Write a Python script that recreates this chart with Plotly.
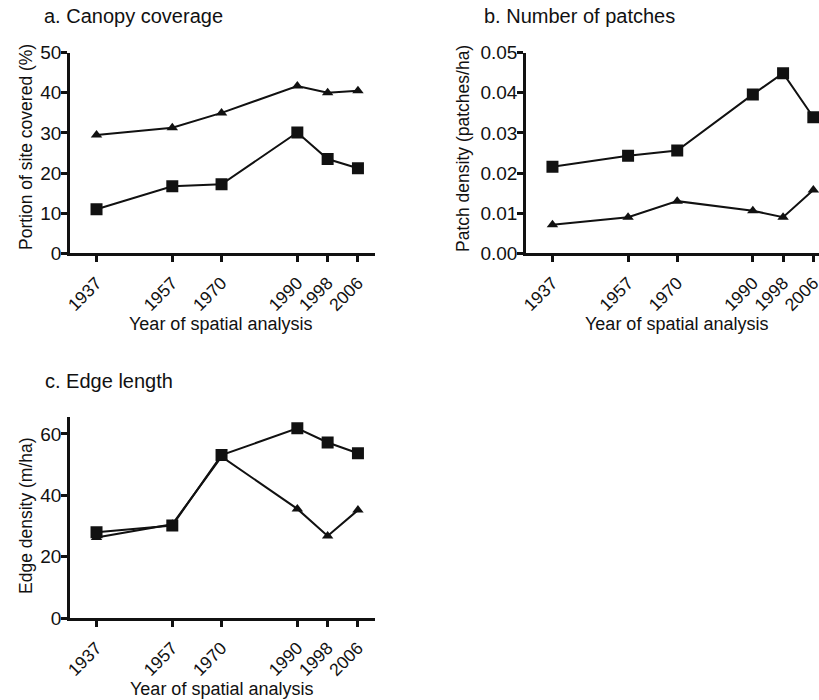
import plotly.graph_objects as go

years = [1937, 1957, 1970, 1990, 1998, 2006]
year_labels = ["1937", "1957", "1970", "1990", "1998", "2006"]

canopy_square = [11.0, 16.7, 17.2, 30.1, 23.5, 21.2]
canopy_triangle = [29.5, 31.3, 35.0, 41.7, 40.0, 40.5]

patch_square = [0.0216, 0.0243, 0.0256, 0.0396, 0.0449, 0.0339]
patch_triangle = [0.0071, 0.0090, 0.0130, 0.0106, 0.0090, 0.0158]

edge_square = [28.0, 30.2, 53.1, 61.8, 57.2, 53.7]
edge_triangle = [26.3, 30.6, 52.6, 35.6, 26.8, 35.2]

W, H = 819, 700
FONT = "Liberation Sans, Arial, Helvetica, sans-serif"
INK = "#111111"


def px(x):
    return x / W


def py(y):
    return 1 - y / H


fig = go.Figure()


def add_pair(sq, tri, xa, ya):
    fig.add_trace(go.Scatter(x=years, y=tri, xaxis=xa, yaxis=ya, mode="lines+markers",
                             line=dict(color=INK, width=2),
                             marker=dict(symbol="triangle-up", size=10, color=INK),
                             showlegend=False))
    fig.add_trace(go.Scatter(x=years, y=sq, xaxis=xa, yaxis=ya, mode="lines+markers",
                             line=dict(color=INK, width=2),
                             marker=dict(symbol="square", size=12, color=INK),
                             showlegend=False))


add_pair(canopy_square, canopy_triangle, "x", "y")
add_pair(patch_square, patch_triangle, "x2", "y2")
add_pair(edge_square, edge_triangle, "x3", "y3")

xcommon = dict(showline=True, linecolor=INK, linewidth=2.5, ticks="outside", ticklen=6,
               tickwidth=2.5, tickcolor=INK, tickvals=years, ticktext=year_labels,
               tickangle=-45, showgrid=False, zeroline=False, automargin=False,
               ticklabelstandoff=4, ticklabeloverflow="allow",
               tickfont=dict(family=FONT, size=17.5, color=INK))
ycommon = dict(showline=True, linecolor=INK, linewidth=2.5, ticks="outside", ticklen=6,
               tickwidth=2.5, tickcolor=INK, showgrid=False, zeroline=False, automargin=False,
               ticklabelstandoff=-4, ticklabeloverflow="allow",
               tickfont=dict(family=FONT, size=19, color=INK))

fig.update_layout(
    width=W, height=H, margin=dict(l=0, r=0, t=0, b=0),
    paper_bgcolor="white", plot_bgcolor="white",
    xaxis=dict(xcommon, domain=[px(70), px(375)], range=[1930, 2010.5], anchor="y"),
    yaxis=dict(ycommon, domain=[py(253.3), py(52.7)], range=[0, 50],
               tickvals=[0, 10, 20, 30, 40, 50], anchor="x"),
    xaxis2=dict(xcommon, domain=[px(526), 1.0], range=[1930, 2007.5], anchor="y2"),
    yaxis2=dict(ycommon, domain=[py(253.3), py(52.7)], range=[0, 0.05],
                tickvals=[0, 0.01, 0.02, 0.03, 0.04, 0.05], tickformat=".2f", anchor="x2"),
    xaxis3=dict(xcommon, domain=[px(70), px(375)], range=[1930, 2010.5], anchor="y3"),
    yaxis3=dict(ycommon, domain=[py(618.3), py(417.3)], range=[0, 65.4],
                tickvals=[0, 20, 40, 60], anchor="x3"),
)

ann = []


def text(t, x, y, size, xanchor="center", angle=0):
    ann.append(dict(text=t, x=px(x), y=py(y), xref="paper", yref="paper",
                    xanchor=xanchor, yanchor="middle", showarrow=False, textangle=angle,
                    font=dict(family=FONT, size=size, color=INK)))


text("a. Canopy coverage", 42, 16, 20, xanchor="left")
text("b. Number of patches", 482, 16, 20, xanchor="left")
text("c. Edge length", 43, 381, 20, xanchor="left")

text("Portion of site covered (%)", 26, 147, 17.5, angle=-90)
text("Patch density (patches/ha)", 463, 149, 17.5, angle=-90)
text("Edge density (m/ha)", 26, 516, 17.5, angle=-90)

text("Year of spatial analysis", 220, 324, 18)
text("Year of spatial analysis", 676, 324, 18)
text("Year of spatial analysis", 221, 689, 18)

fig.update_layout(annotations=ann)

fig.write_html("out.html")
